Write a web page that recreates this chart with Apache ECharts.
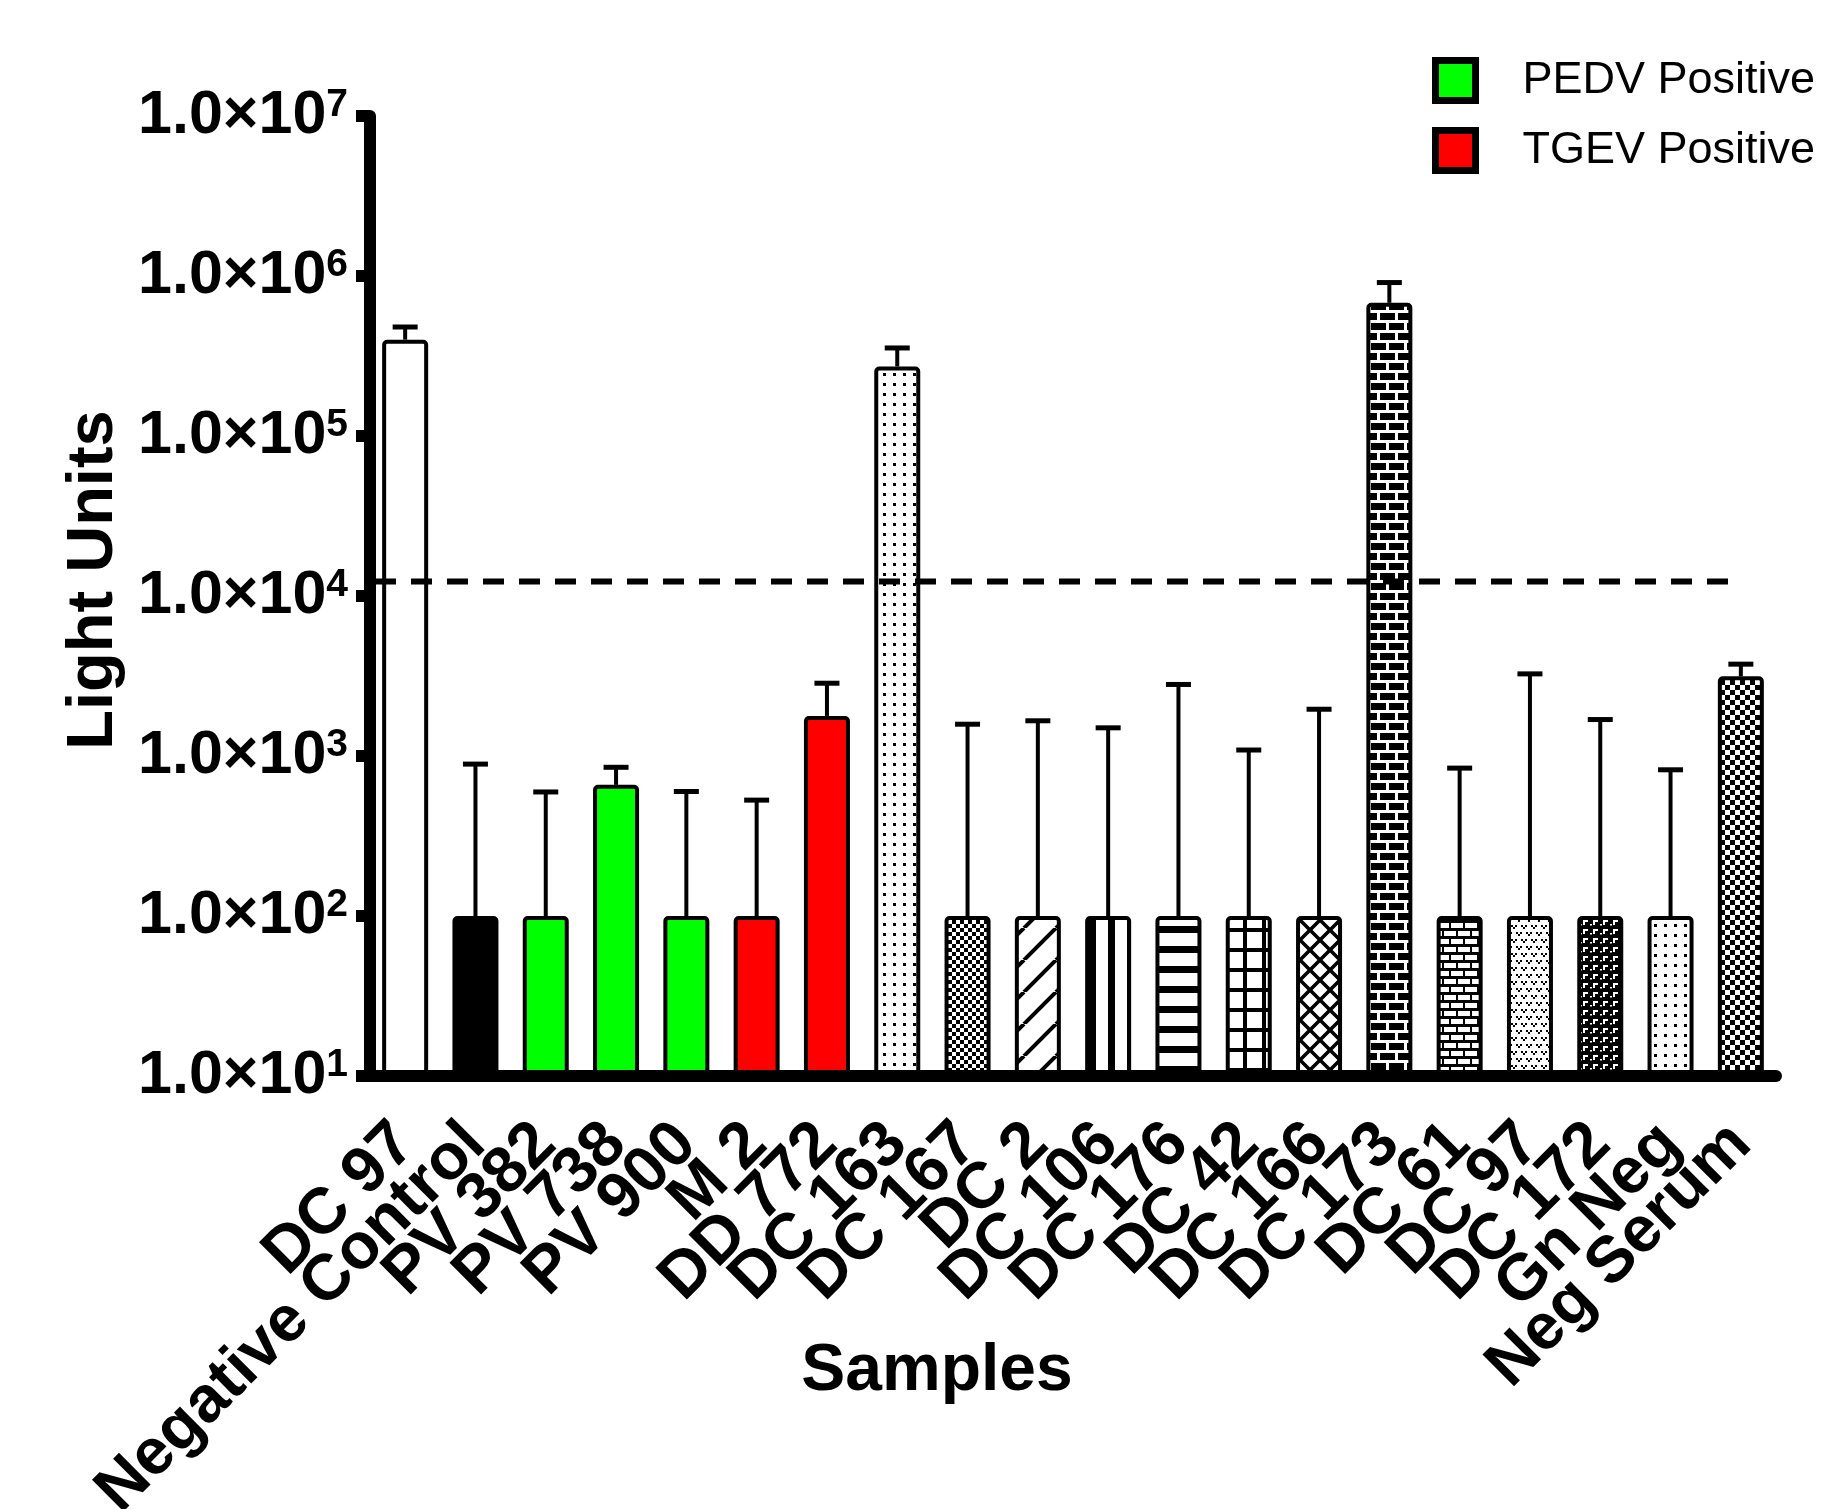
<!DOCTYPE html>
<html>
<head>
<meta charset="utf-8">
<script src="https://cdn.jsdelivr.net/npm/echarts@6/dist/echarts.min.js"></script>
<style>
  html, body { margin: 0; padding: 0; background: #fff; }
  #chart { width: 1836px; height: 1509px; }
</style>
</head>
<body>
<div id="chart"></div>
<script>
// samples along the x axis
const categories = ['DC 97', 'Negative Control', 'PV 382', 'PV 738', 'PV 900', 'M 2', 'DD 772',
  'DC 163', 'DC 167', 'DC 2', 'DC 106', 'DC 176', 'DC 42', 'DC 166', 'DC 173', 'DC 61',
  'DC 97', 'DC 172', 'Gn Neg', 'Neg Serum'];
// bar heights (light units)
const means = [400000, 100, 100, 660, 100, 100, 1780, 272000, 100, 100, 100, 100, 100, 100,
  680000, 100, 100, 100, 100, 3150];
// top of the error bars
const upperErrors = [480000, 890, 596, 850, 600, 530, 2850, 355000, 1580, 1660, 1500, 2800,
  1090, 1960, 910000, 840, 3260, 1690, 820, 3750];
// dashed cut-off line
const cutoff = 12300;
// y tick labels shown as 1.0x10^n
const yTickExponents = [1, 2, 3, 4, 5, 6, 7];
const legendNames = ['PEDV Positive', 'TGEV Positive'];

const FONT = '"Liberation Sans", Arial, sans-serif';

function makePattern(w, h, bg, fg, draw) {
  const c = document.createElement('canvas');
  c.width = w;
  c.height = h;
  const g = c.getContext('2d');
  g.fillStyle = bg;
  g.fillRect(0, 0, w, h);
  g.fillStyle = fg;
  g.strokeStyle = fg;
  draw(g, w, h);
  return { image: c, repeat: 'repeat' };
}

const fills = {
  white: '#ffffff',
  black: '#000000',
  green: '#00ff00',
  red: '#ff0000',
  dots: makePattern(10, 10, '#fff', '#000', g => g.fillRect(3, 3, 3, 3)),
  checker: makePattern(8, 8, '#fff', '#000', g => { g.fillRect(0, 0, 4, 4); g.fillRect(4, 4, 4, 4); }),
  checkerLarge: makePattern(10, 10, '#fff', '#000', g => { g.fillRect(0, 0, 5, 5); g.fillRect(5, 5, 5, 5); }),
  diag: makePattern(32, 32, '#fff', '#000', g => {
    g.lineWidth = 4;
    [-32, 0, 32].forEach(o => { g.beginPath(); g.moveTo(o, 32); g.lineTo(o + 32, 0); g.stroke(); });
  }),
  vstripe: makePattern(19, 4, '#fff', '#000', g => g.fillRect(6, 0, 7, 4)),
  hstripe: makePattern(4, 20, '#fff', '#000', g => g.fillRect(0, 6, 4, 7)),
  grid: makePattern(19, 20, '#fff', '#000', g => { g.fillRect(8, 0, 4, 20); g.fillRect(0, 8, 19, 4); }),
  cross: makePattern(20, 20, '#fff', '#000', g => {
    g.lineWidth = 3.5;
    [-20, 0, 20].forEach(o => {
      g.beginPath(); g.moveTo(o, 20); g.lineTo(o + 20, 0); g.stroke();
      g.beginPath(); g.moveTo(o, 0); g.lineTo(o + 20, 20); g.stroke();
    });
  }),
  brickDark: makePattern(18, 20, '#000', '#fff', g => {
    g.fillRect(0, 0, 18, 3); g.fillRect(0, 0, 3, 10);
    g.fillRect(0, 10, 18, 3); g.fillRect(9, 10, 3, 10);
  }),
  brickLight: makePattern(14, 16, '#fff', '#000', g => {
    g.fillRect(0, 0, 14, 3); g.fillRect(0, 0, 2, 8);
    g.fillRect(0, 8, 14, 3); g.fillRect(7, 8, 2, 8);
  }),
  vmarks: makePattern(10, 14, '#fff', '#000', g => {
    g.fillRect(1, 1, 2, 2); g.fillRect(5, 1, 2, 2); g.fillRect(3, 3, 2, 2);
    g.fillRect(6, 8, 2, 2); g.fillRect(0, 8, 2, 2); g.fillRect(8, 10, 2, 2);
  }),
  darkweave: makePattern(10, 9, '#000', '#fff', g => {
    g.fillRect(3, 2, 5, 2); g.fillRect(3, 2, 2, 5); g.fillRect(0, 6, 2, 1.5);
  }),
  dotsSparse: makePattern(10, 10, '#fff', '#000', g => g.fillRect(4, 4, 3, 3))
};
const barFills = ['white', 'black', 'green', 'green', 'green', 'red', 'red', 'dots', 'checker',
  'diag', 'vstripe', 'hstripe', 'grid', 'cross', 'brickDark', 'brickLight', 'vmarks',
  'darkweave', 'dotsSparse', 'checkerLarge'];
const legendColors = ['#00ff00', '#ff0000'];

const chart = echarts.init(document.getElementById('chart'));

const option = {
  animation: false,
  backgroundColor: '#fff',
  textStyle: { fontFamily: FONT },
  grid: { left: 370, right: 60, top: 116, bottom: 433, containLabel: false, outerBoundsMode: 'none' },
  legend: {
    orient: 'vertical',
    left: 1432,
    top: 57,
    padding: 0,
    itemWidth: 40,
    itemHeight: 40,
    itemGap: 23,
    icon: 'rect',
    selectedMode: false,
    data: legendNames,
    itemStyle: { borderColor: '#000', borderWidth: 7, opacity: 1 },
    textStyle: { fontSize: 45, color: '#000', fontFamily: FONT, padding: [0, 0, 0, 42] }
  },
  xAxis: [{
    type: 'category',
    data: categories,
    z: 10,
    axisLine: { onZero: false, lineStyle: { color: '#000', width: 12 } },
    axisTick: { alignWithLabel: true, interval: 0, length: 14, lineStyle: { color: '#000', width: 12 } },
    axisLabel: {
      interval: 0, rotate: 45, margin: 58, color: '#000',
      fontSize: 65, fontWeight: 'bold', fontFamily: FONT
    },
    splitLine: { show: false }
  }, {
    type: 'value', min: -0.5, max: 19.5, show: false
  }],
  yAxis: {
    type: 'log',
    logBase: 10,
    min: 10,
    max: 10000000,
    z: 10,
    axisLine: { show: true, onZero: false, lineStyle: { color: '#000', width: 12 } },
    axisTick: { show: true, length: 14, lineStyle: { color: '#000', width: 12 } },
    splitLine: { show: false },
    axisLabel: {
      margin: 22,
      formatter: function (v) {
        const e = Math.round(Math.log10(v));
        return yTickExponents.indexOf(e) >= 0 ? '{b|1.0\u00d710}{s|' + e + '}' : '';
      },
      rich: {
        b: { fontSize: 61, fontWeight: 'bold', color: '#000', fontFamily: FONT },
        s: { fontSize: 39, fontWeight: 'bold', color: '#000', fontFamily: FONT, verticalAlign: 'top' }
      }
    }
  },
  graphic: [{
    type: 'text',
    x: 94, y: 580,
    rotation: Math.PI / 2,
    style: {
      text: 'Light Units', fill: '#000', font: 'bold 65px ' + FONT,
      textAlign: 'center', textVerticalAlign: 'middle'
    }
  }, {
    type: 'text',
    x: 937, y: 1372,
    style: {
      text: 'Samples', fill: '#000', font: 'bold 66px ' + FONT,
      textAlign: 'center', textVerticalAlign: 'middle'
    }
  }],
  series: [{
    type: 'bar',
    name: 'samples',
    barWidth: 46,
    data: means.map((v, i) => ({ value: v, itemStyle: { color: fills[barFills[i]] } })),
    itemStyle: { borderColor: '#000', borderWidth: 4, borderRadius: [3, 3, 0, 0] },
    z: 2
  }, {
    type: 'custom',
    name: 'error',
    data: means.map((v, i) => [i, v, upperErrors[i]]),
    encode: { x: 0, y: [1, 2] },
    z: 1,
    renderItem: function (params, api) {
      const idx = api.value(0);
      const base = api.coord([idx, api.value(1)]);
      const top = api.coord([idx, api.value(2)]);
      return {
        type: 'group',
        children: [{
          type: 'line',
          shape: { x1: base[0], y1: base[1], x2: top[0], y2: top[1] },
          style: { stroke: '#000', lineWidth: 4 }
        }, {
          type: 'line',
          shape: { x1: top[0] - 12.5, y1: top[1], x2: top[0] + 12.5, y2: top[1] },
          style: { stroke: '#000', lineWidth: 5 }
        }]
      };
    }
  }, {
    type: 'line',
    name: 'cutoff',
    xAxisIndex: 1,
    data: [[-0.5, cutoff], [19, cutoff]],
    symbol: 'none',
    silent: true,
    z: 5,
    lineStyle: { color: '#000', width: 6, type: [21, 15], dashOffset: -5 }
  }].concat(legendNames.map((n, i) => ({
    type: 'scatter',
    name: n,
    data: [],
    itemStyle: { color: legendColors[i], borderColor: '#000', borderWidth: 7, opacity: 1 }
  })))
};

chart.setOption(option);
</script>
</body>
</html>
